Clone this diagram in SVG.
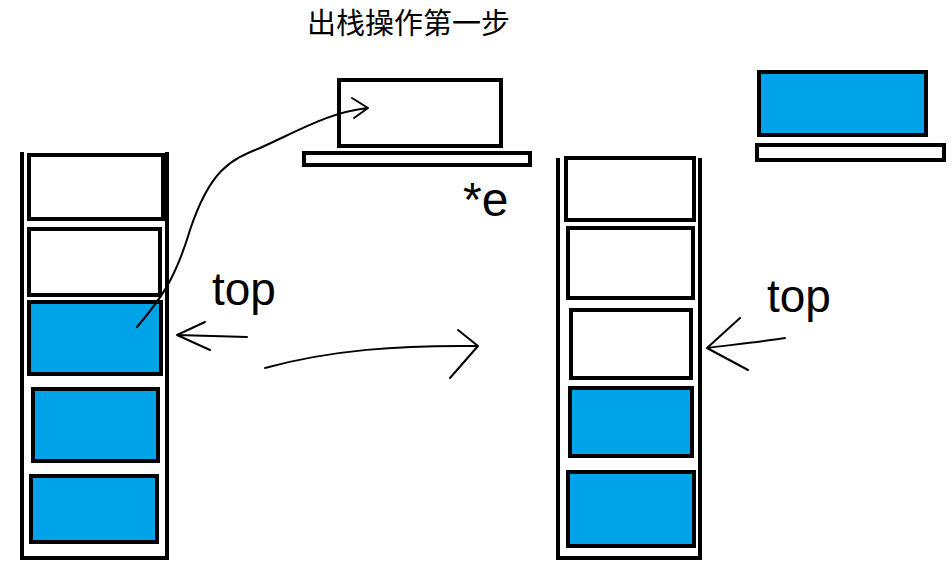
<svg xmlns="http://www.w3.org/2000/svg" width="952" height="561" viewBox="0 0 952 561">
<style>
.w{fill:#fff;stroke:#000;stroke-width:4}
.b{fill:#00a2e8;stroke:#000;stroke-width:4}
.l{fill:none;stroke:#000;stroke-width:4}
.c{fill:none;stroke:#000;stroke-width:2;stroke-linecap:round;stroke-linejoin:round}
.t{font-family:"Comic Sans MS","Liberation Sans",sans-serif;font-size:46px}
</style>
<rect width="952" height="561" fill="#fff"/>
<text x="307" y="34" font-family="Noto Sans CJK SC, sans-serif" font-size="29">出栈操作第一步</text>
<g id="left-stack">
<path class="l" d="M22,152V558H167V152"/>
<rect class="w" x="29" y="155" width="134" height="64"/>
<rect class="w" x="29" y="229" width="131" height="66"/>
<rect class="b" x="29" y="302" width="132" height="72"/>
<rect class="b" x="33" y="389" width="125" height="72"/>
<rect class="b" x="31" y="476" width="126" height="66"/>
</g>
<g id="temp-empty">
<rect class="w" x="339" y="80" width="162" height="66"/>
<rect class="w" x="304" y="153" width="226" height="12"/>
</g>
<g id="temp-full">
<rect class="b" x="759" y="72" width="167" height="63"/>
<rect class="w" x="757" y="145" width="187" height="15"/>
</g>
<g id="right-stack">
<path class="l" d="M558,158V558H700V158"/>
<rect class="w" x="566" y="158" width="128" height="62"/>
<rect class="w" x="568" y="228" width="125" height="70"/>
<rect class="w" x="571" y="310" width="120" height="68"/>
<rect class="b" x="570" y="388" width="122" height="68"/>
<rect class="b" x="568" y="472" width="126" height="74"/>
</g>
<g id="connectors">
<path class="c" d="M137,327C160,300 175,280 190,230C210,170 230,160 260,148C300,130 330,112 368,108M352,98L368,108L354,118"/>
<path class="c" d="M247,337L177,335M205,322L177,335L210,350"/>
<path class="c" d="M265,368C330,350 400,345 478,346M458,330L478,346L450,378"/>
<path class="c" d="M785,338C760,342 730,345 707,348M740,318L707,348L748,370"/>
</g>
<text class="t" x="212" y="305">top</text>
<text class="t" x="767" y="312">top</text>
<text x="463" y="216" font-family="Comic Sans MS, Liberation Sans, sans-serif" font-size="48">*e</text>
</svg>
